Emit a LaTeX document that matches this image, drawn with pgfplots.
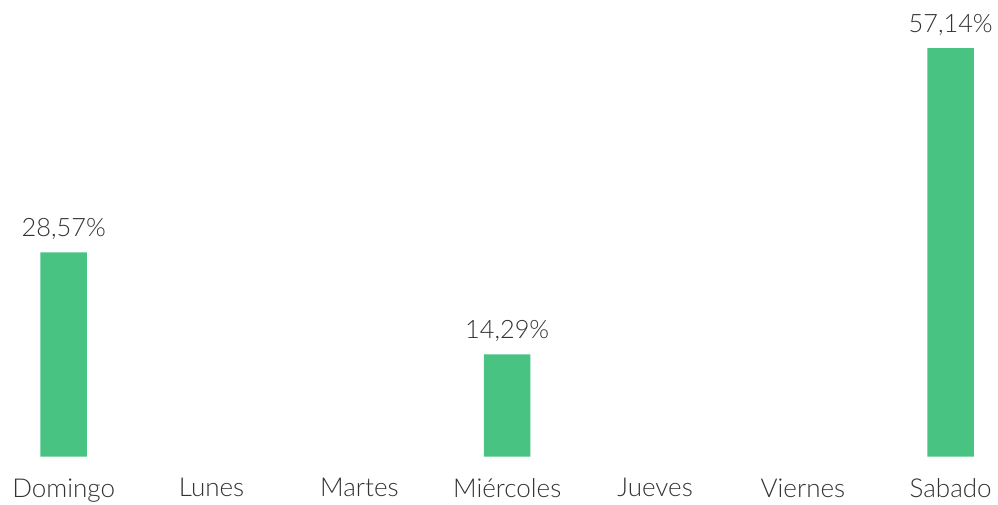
\documentclass[border=0pt]{standalone}
\usepackage{fontspec}
\setmainfont{Lato Light}
\usepackage{pgfplots}
\pgfplotsset{compat=1.18}
\definecolor{bargreen}{HTML}{48C381}
\definecolor{txt}{HTML}{333333}
\begin{document}
\begin{tikzpicture}
\begin{axis}[
  scale only axis,
  width=748.5pt, height=342.4pt,
  xmin=-0.431, xmax=6.320,
  ymin=0, ymax=63.86,
  axis line style={draw=none},
  major tick length=0pt,
  clip=false,
  ybar, bar width=34.9pt,
  xtick={0,1,2,3,4,5,6},
  xticklabels={Domingo,Lunes,Martes,Miércoles,Jueves,Viernes,Sabado},
  xticklabel style={font=\fontsize{19.5}{21}\selectfont, text=txt, yshift=-13pt},
  ytick=\empty,
  unbounded coords=discard,
  y filter/.expression={y==0 ? nan : y},
  point meta=explicit symbolic,
  nodes near coords,
  every node near coord/.style={font=\fontsize{19}{21}\selectfont, text=txt, anchor=south, yshift=6pt},
]
\addplot[fill=bargreen, draw=none] coordinates {
  (0,28.57) [28,57\%]
  (1,0) []
  (2,0) []
  (3,14.29) [14,29\%]
  (4,0) []
  (5,0) []
  (6,57.14) [57,14\%]
};
\end{axis}
\pgfresetboundingbox
\path (current axis.south west) ++(0pt,-35.6pt) rectangle (current axis.north east);
\end{tikzpicture}
\end{document}
